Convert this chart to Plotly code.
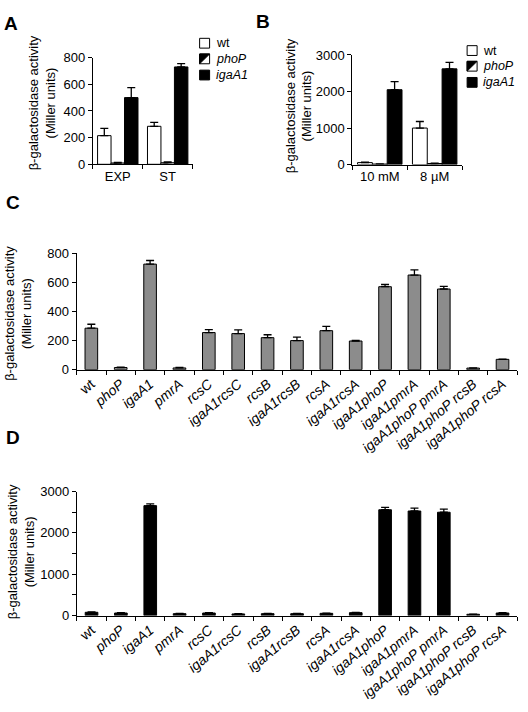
import plotly.graph_objects as go

W, H = 528, 712

# ---------------- data ----------------
# Panel A
a_groups = ["EXP", "ST"]
a_wt = [215, 285]
a_wt_err = [55, 30]
a_phop = [10, 12]
a_phop_err = [5, 6]
a_igaa1 = [500, 730]
a_igaa1_err = [75, 25]

# Panel B
b_groups = ["10 mM", "8 µM"]
b_wt = [55, 1000]
b_wt_err = [15, 180]
b_phop = [15, 30]
b_phop_err = [5, 10]
b_igaa1 = [2050, 2620]
b_igaa1_err = [220, 180]

# Panels C and D
strains = ["wt", "phoP", "igaA1", "pmrA", "rcsC", "igaA1rcsC", "rcsB", "igaA1rcsB",
           "rcsA", "igaA1rcsA", "igaA1phoP", "igaA1pmrA", "igaA1phoP pmrA",
           "igaA1phoP rcsB", "igaA1phoP rcsA"]
c_vals = [285, 15, 725, 12, 255, 248, 220, 200, 268, 197, 570, 650, 554, 11, 71]
c_err = [27, 3, 25, 3, 20, 25, 20, 24, 29, 5, 15, 35, 18, 2, 2]
d_vals = [80, 63, 2660, 47, 63, 40, 47, 47, 55, 71, 2560, 2530, 2500, 32, 63]
d_err = [10, 8, 40, 6, 8, 6, 6, 6, 6, 8, 60, 70, 75, 6, 8]

legend_names = ["wt", "phoP", "igaA1"]

# --------------- helpers ---------------
FONT = "Arial, Liberation Sans, sans-serif"


def xd(a, b):
    return [a / W, b / W]


def yd(top, bottom):
    return [1 - bottom / H, 1 - top / H]


def err(vals):
    return dict(type="data", array=vals, arrayminus=[0] * len(vals), symmetric=False,
                color="black", thickness=1.3, width=4, visible=True)


def label(s):
    return s if s == "wt" else f"<i>{s}</i>"


strain_labels = [label(s) for s in strains]

line = dict(color="black", width=1)
hatch = dict(shape="/", fgcolor="black", bgcolor="white", size=9, solidity=0.5)

fig = go.Figure()

# Panel A
fig.add_trace(go.Bar(x=a_groups, y=a_wt, name="wt", marker=dict(color="white", line=line),
                     error_y=err(a_wt_err), xaxis="x", yaxis="y"))
fig.add_trace(go.Bar(x=a_groups, y=a_phop, name="phoP",
                     marker=dict(color="white", line=line, pattern=hatch),
                     error_y=err(a_phop_err), xaxis="x", yaxis="y"))
fig.add_trace(go.Bar(x=a_groups, y=a_igaa1, name="igaA1", marker=dict(color="black", line=line),
                     error_y=err(a_igaa1_err), xaxis="x", yaxis="y"))

# Panel B
fig.add_trace(go.Bar(x=b_groups, y=b_wt, name="wt", marker=dict(color="white", line=line),
                     error_y=err(b_wt_err), xaxis="x2", yaxis="y2"))
fig.add_trace(go.Bar(x=b_groups, y=b_phop, name="phoP",
                     marker=dict(color="white", line=line, pattern=hatch),
                     error_y=err(b_phop_err), xaxis="x2", yaxis="y2"))
fig.add_trace(go.Bar(x=b_groups, y=b_igaa1, name="igaA1", marker=dict(color="black", line=line),
                     error_y=err(b_igaa1_err), xaxis="x2", yaxis="y2"))

# Panel C
fig.add_trace(go.Bar(x=strain_labels, y=c_vals, width=0.43,
                     marker=dict(color="#8c8c8c", line=line),
                     error_y=err(c_err), xaxis="x3", yaxis="y3"))

# Panel D
fig.add_trace(go.Bar(x=strain_labels, y=d_vals, width=0.43,
                     marker=dict(color="black", line=line),
                     error_y=err(d_err), xaxis="x4", yaxis="y4"))

xcommon = dict(type="category", showline=True, linecolor="black", linewidth=1,
               ticks="outside", tickson="boundaries", ticklen=4, tickcolor="black",
               showgrid=False, zeroline=False, tickfont=dict(size=13, color="black"))
ycommon = dict(showline=True, linecolor="black", linewidth=1, ticks="outside", ticklen=4,
               tickcolor="black", showgrid=False, zeroline=False,
               tickfont=dict(size=13, color="black"))

fig.update_layout(
    width=W, height=H,
    margin=dict(l=0, r=0, t=0, b=0),
    paper_bgcolor="white", plot_bgcolor="white",
    font=dict(family=FONT, color="black", size=13),
    showlegend=False,
    barmode="group", bargap=0.19, bargroupgap=0,
    xaxis=dict(xcommon, domain=xd(92, 192), anchor="y"),
    yaxis=dict(ycommon, domain=yd(51.7, 160.7), anchor="x", range=[0, 800], dtick=200),
    xaxis2=dict(xcommon, domain=xd(352, 462), anchor="y2"),
    yaxis2=dict(ycommon, domain=yd(49, 161), anchor="x2", range=[0, 3000], dtick=1000),
    xaxis3=dict(xcommon, domain=xd(75.8, 517.2), anchor="y3", tickangle=-40,
                tickfont=dict(size=14, color="black")),
    yaxis3=dict(ycommon, domain=yd(251.5, 370.5), anchor="x3", range=[0, 800], dtick=200),
    xaxis4=dict(xcommon, domain=xd(76, 517.2), anchor="y4", tickangle=-40,
                tickfont=dict(size=14, color="black")),
    yaxis4=dict(ycommon, domain=yd(495, 621.7), anchor="x4", range=[0, 3000], dtick=1000,
                minor=dict(dtick=500, ticks="outside", ticklen=4, tickcolor="black")),
)

# ---- legends (drawn as swatches + text) ----
def draw_legend(x0, centers):
    size = 10
    for name, cy in zip(legend_names, centers):
        left, right = x0 / W, (x0 + size) / W
        top, bot = 1 - (cy - size / 2) / H, 1 - (cy + size / 2) / H
        fill = "black" if name == "igaA1" else "white"
        fig.add_shape(type="rect", xref="paper", yref="paper", x0=left, x1=right,
                      y0=bot, y1=top, fillcolor=fill, line=dict(color="black", width=1))
        if name == "phoP":
            path = f"M{left},{top} L{right},{top} L{left},{bot} Z"
            fig.add_shape(type="path", xref="paper", yref="paper", path=path,
                          fillcolor="black", line=dict(color="black", width=1))
        txt = name if name == "wt" else f"<i>{name}</i>"
        fig.add_annotation(text=txt, x=(x0 + size + 4) / W, y=1 - cy / H, xref="paper",
                           yref="paper", showarrow=False, xanchor="left", yanchor="middle",
                           font=dict(size=12.5))


draw_legend(199, [37, 53, 69.5])
draw_legend(467, [44.5, 60.5, 77])

ytitle = "β-galactosidase activity<br>(Miller units)"
for (cx, cy) in [(41.5, 98), (298, 101), (17.5, 313), (20, 556)]:
    fig.add_annotation(text=ytitle, x=cx / W, y=1 - cy / H, xref="paper", yref="paper",
                       textangle=-90, showarrow=False, xanchor="center", yanchor="middle",
                       font=dict(size=13))

for (txt, cx, cy) in [("A", 10, 17), ("B", 262, 15), ("C", 12, 200), ("D", 12, 440)]:
    fig.add_annotation(text=f"<b>{txt}</b>", x=cx / W, y=1 - cy / H, xref="paper", yref="paper",
                       showarrow=False, xanchor="center", yanchor="middle",
                       font=dict(size=19))

fig.write_html("out.html", config={"displayModeBar": False},
               post_script="document.body.style.margin='0px';")
